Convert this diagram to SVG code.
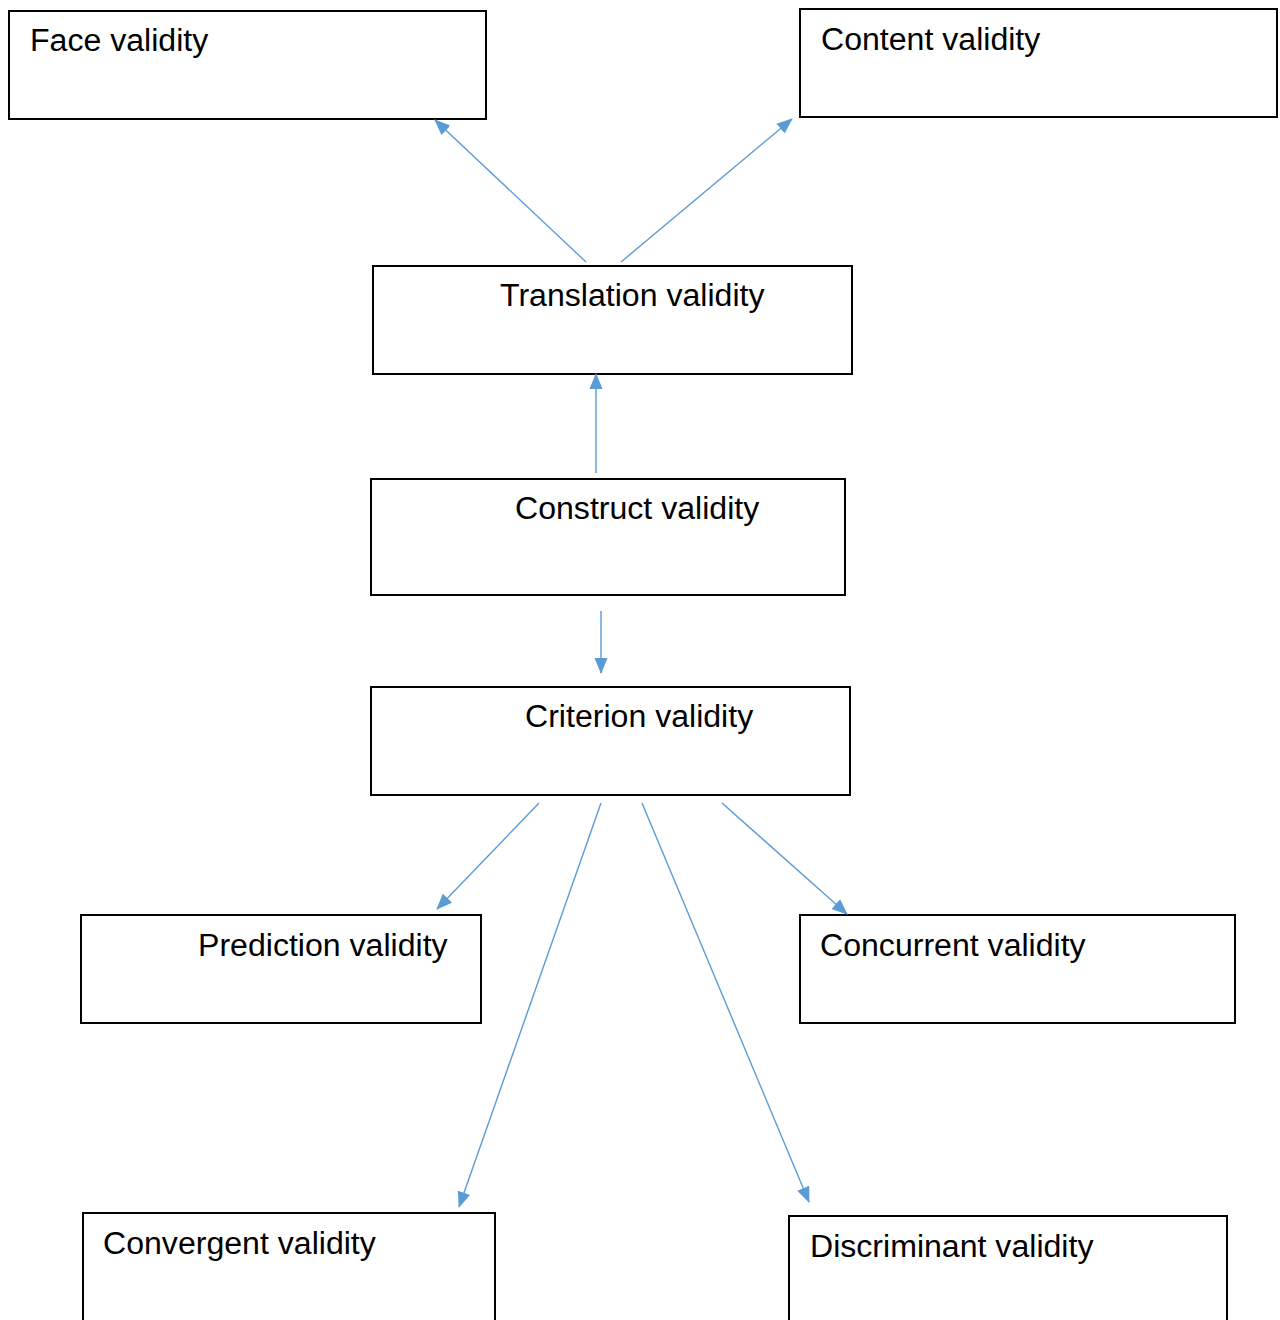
<svg xmlns="http://www.w3.org/2000/svg" width="1280" height="1320" viewBox="0 0 1280 1320">
<style>
.box{fill:#fff;stroke:#000;stroke-width:2}
.lbl{font-family:"Liberation Sans",Arial,sans-serif;font-size:32.1px;fill:#000}
.con{stroke:#5B9BD5;stroke-width:1.4;fill:none;marker-end:url(#ah)}
</style>
<defs>
<marker id="ah" markerUnits="userSpaceOnUse" markerWidth="16" markerHeight="14" refX="15" refY="6.5" orient="auto" viewBox="0 0 16 13">
<path d="M0,0 L16,6.5 L0,13 z" fill="#5B9BD5"/>
</marker>
</defs>
<rect width="1280" height="1320" fill="#fff"/>
<g id="face"><rect class="box" x="9" y="11" width="477" height="108"/><text class="lbl" x="30" y="51">Face validity</text></g>
<g id="content"><rect class="box" x="800" y="9" width="477" height="108"/><text class="lbl" x="821" y="50">Content validity</text></g>
<g id="translation"><rect class="box" x="373" y="266" width="479" height="108"/><text class="lbl" x="500" y="306">Translation validity</text></g>
<g id="construct"><rect class="box" x="371" y="479" width="474" height="116"/><text class="lbl" x="515" y="519">Construct validity</text></g>
<g id="criterion"><rect class="box" x="371" y="687" width="479" height="108"/><text class="lbl" x="525" y="727">Criterion validity</text></g>
<g id="prediction"><rect class="box" x="81" y="915" width="400" height="108"/><text class="lbl" x="198" y="956">Prediction validity</text></g>
<g id="concurrent"><rect class="box" x="800" y="915" width="435" height="108"/><text class="lbl" x="820" y="956">Concurrent validity</text></g>
<g id="convergent"><rect class="box" x="83" y="1213" width="412" height="120"/><text class="lbl" x="103" y="1254">Convergent validity</text></g>
<g id="discriminant"><rect class="box" x="789" y="1216" width="438" height="120"/><text class="lbl" x="810" y="1257">Discriminant validity</text></g>
<g id="connectors">
<line class="con" x1="586" y1="262" x2="435" y2="120"/>
<line class="con" x1="621" y1="262" x2="792" y2="119"/>
<line class="con" x1="596" y1="473" x2="596" y2="374"/>
<line class="con" x1="601" y1="611" x2="601" y2="673"/>
<line class="con" x1="539" y1="803" x2="437" y2="909"/>
<line class="con" x1="601" y1="803" x2="459" y2="1207"/>
<line class="con" x1="642" y1="803" x2="809" y2="1202"/>
<line class="con" x1="722" y1="803" x2="847" y2="914"/>
</g>
</svg>
